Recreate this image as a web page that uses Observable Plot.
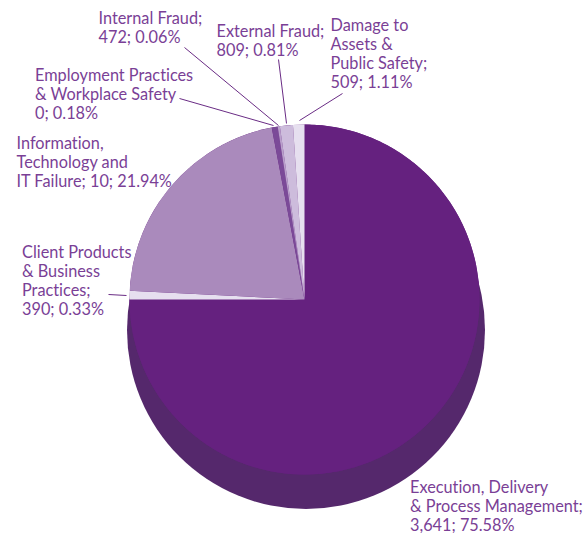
<!DOCTYPE html>
<html>
<head>
<meta charset="utf-8">
<script src="https://cdn.jsdelivr.net/npm/d3@7"></script>
<script src="https://cdn.jsdelivr.net/npm/@observablehq/plot@0.6"></script>
<style>html,body{margin:0;padding:0;background:#fff}svg{display:block}</style>
</head>
<body>
<div id="chart"></div>
<script>
// Slices, clockwise from 12 o'clock
const categories = ["Execution","Client","Information","Employment","Internal","External","Damage"];
// Share of the circle as actually drawn in the picture (%)
const drawnShare = [75.0, 0.8, 21.2, 0.55, 0.2, 1.2, 1.05];
const sliceColors = ["#65217f","#e6dfef","#aa8abc","#7b4a98","#b9a0cb","#cdbcdc","#e6dfef"];
const labelTexts = [
  "Internal Fraud;\n472; 0.06%",
  "External Fraud;\n809; 0.81%",
  "Damage to\nAssets &\nPublic Safety;\n509; 1.11%",
  "Employment Practices\n& Workplace Safety\n0; 0.18%",
  "Information,\nTechnology and\nIT Failure; 10; 21.94%",
  "Client Products\n& Business\nPractices;\n390; 0.33%",
  "Execution, Delivery\n& Process Management;\n3,641; 75.58%"
];

// Layout (pixels)
const W = 586, H = 533;
const pie = {x: 304, y: 299, r: 175};
const base = {x: 305.5, y: 329.5, r: 179};
const labelPos = [[98,10],[216,23],[330,17],[34.5,67],[16,135],[21.5,244],[409.5,479]];
const leaderPos = [[184,47,278,125],[278,59,286,123],[342,93,299,120],[179,98,273,125],[108,294,126,295]];
const textColor = "#7a3f96", leaderColor = "#6a2c85";

const arcs = d3.pie().sort(null).value(d => d)(drawnShare);
const slices = arcs.flatMap((a, i) => {
  const n = Math.max(2, Math.ceil((a.endAngle - a.startAngle) / 0.01));
  const pts = [{slice: categories[i], i, x: pie.x, y: pie.y}];
  for (let k = 0; k <= n; k++) {
    const t = a.startAngle + (a.endAngle - a.startAngle) * k / n;
    pts.push({slice: categories[i], i, x: pie.x + pie.r * Math.sin(t), y: pie.y - pie.r * Math.cos(t)});
  }
  pts.push({slice: categories[i], i, x: pie.x, y: pie.y});
  return pts;
});
const labels = labelTexts.map((text, i) => ({text, x: labelPos[i][0], y: labelPos[i][1]}));
const leaders = leaderPos.map(([x1, y1, x2, y2]) => ({x1, y1, x2, y2}));

const chart = Plot.plot({
  width: W, height: H, margin: 0,
  x: {domain: [0, W], range: [0, W], axis: null},
  y: {domain: [0, H], range: [0, H], axis: null},
  style: {background: "#fff", fontVariantLigatures: "none"},
  marks: [
    Plot.dot([base], {x: "x", y: "y", r: base.r, fill: "#55286c", stroke: "none"}),
    Plot.dot([pie], {x: "x", y: "y", r: pie.r, fill: "#65217f", stroke: "none"}),
    Plot.line(slices, {x: "x", y: "y", z: "slice", fill: d => sliceColors[d.i], stroke: "none", curve: "linear"}),
    Plot.link(leaders, {x1: "x1", y1: "y1", x2: "x2", y2: "y2", stroke: leaderColor, strokeWidth: 1}),
    Plot.text(labels, {x: "x", y: "y", text: "text", textAnchor: "start", lineAnchor: "top", lineHeight: 1.17,
      fill: textColor, fontSize: 16.3, fontFamily: "Lato", fontWeight: 400})
  ]
});
document.getElementById("chart").append(chart);
</script>
</body>
</html>
